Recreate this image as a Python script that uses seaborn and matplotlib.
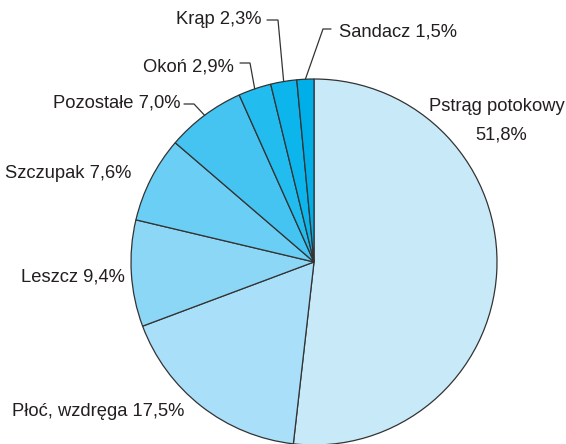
import matplotlib
matplotlib.use("Agg")
import matplotlib.pyplot as plt
import seaborn as sns
import numpy as np

categories = ["Pstrąg potokowy", "Płoć, wzdręga", "Leszcz", "Szczupak",
              "Pozostałe", "Okoń", "Krąp", "Sandacz"]
values = [51.8, 17.5, 9.4, 7.6, 7.0, 2.9, 2.3, 1.5]
value_labels = ["51,8%", "17,5%", "9,4%", "7,6%", "7,0%", "2,9%", "2,3%", "1,5%"]
colors = ["#C8EAF8", "#A9DFF9", "#8CD7F6", "#6BCEF4", "#45C4F1",
          "#22BCEF", "#0CB6EC", "#00AEE8"]

sns.set_theme(style="white")
plt.rcParams["font.family"] = ["Liberation Sans", "DejaVu Sans"]

W, H = 566, 444
fig = plt.figure(figsize=(W / 100, H / 100), dpi=100)
ax = fig.add_axes([0, 0, 1, 1])

cx, cy, R = 314, 262, 183


def d(px, py):
    return (px - cx) / R, (cy - py) / R


wedges, _ = ax.pie(values, colors=colors, startangle=90, counterclock=False,
                   radius=1.0, center=(0, 0),
                   wedgeprops=dict(edgecolor="#333333", linewidth=0.9))

ax.set_xlim(d(0, 0)[0], d(W, 0)[0])
ax.set_ylim(d(0, H)[1], d(0, 0)[1])
ax.set_aspect("equal")
ax.axis("off")

fs = 13.2
tc = "#231F20"

# label placements (pixel positions) : (x, y, ha)
label_pos = {
    "Płoć, wzdręga": (12, 412, "left"),
    "Leszcz": (125, 277, "right"),
    "Szczupak": (131, 173, "right"),
    "Pozostałe": (180, 103, "right"),
    "Okoń": (234, 67, "right"),
    "Krąp": (261, 20, "right"),
    "Sandacz": (339, 32, "left"),
}

# leader elbows (pixel)
leaders = {
    "Pozostałe": [(184, 104), (194, 104)],
    "Okoń": [(240, 63), (250, 63)],
    "Krąp": [(267, 20), (278, 20)],
    "Sandacz": [(331, 29), (323, 29)],
}

for w, cat, vl in zip(wedges, categories, value_labels):
    if cat == "Pstrąg potokowy":
        x, y = d(497, 107)
        ax.text(x, y, cat, ha="center", va="center", fontsize=fs, color=tc)
        x, y = d(501, 135)
        ax.text(x, y, vl, ha="center", va="center", fontsize=fs, color=tc)
        continue
    px, py, ha = label_pos[cat]
    x, y = d(px, py)
    ax.text(x, y, f"{cat} {vl}", ha=ha, va="center", fontsize=fs, color=tc)
    if cat in leaders:
        ang = np.deg2rad((w.theta1 + w.theta2) / 2)
        ex, ey = np.cos(ang), np.sin(ang)
        pts = [d(*p) for p in leaders[cat]] + [(ex, ey)]
        xs, ys = zip(*pts)
        ax.plot(xs, ys, color="#333333", linewidth=0.9, solid_joinstyle="miter")

fig.savefig("out.png", dpi=100)
